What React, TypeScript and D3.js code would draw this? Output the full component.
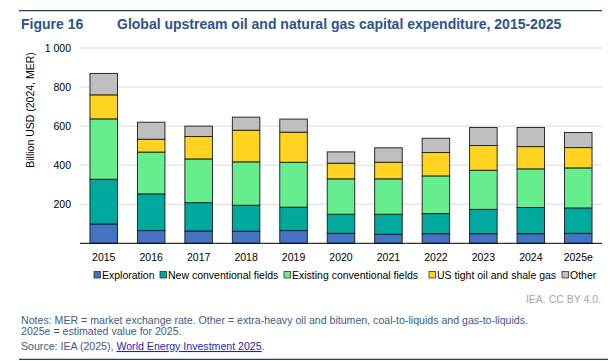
import React from 'react';
import * as d3 from 'd3';

// Chart data (billion USD, 2024 MER)
const years = ['2015', '2016', '2017', '2018', '2019', '2020', '2021', '2022', '2023', '2024', '2025e'];
const exploration = [99, 65, 63, 62, 65, 51, 46, 49, 49, 49, 51];
const newConventional = [229, 188, 145, 133, 120, 98, 103, 103, 125, 134, 130];
const existingConventional = [309, 214, 224, 222, 230, 181, 181, 193, 200, 198, 205];
const usTight = [123, 66, 115, 162, 154, 80, 85, 120, 127, 114, 104];
const other = [110, 87, 53, 67, 67, 58, 74, 73, 92, 98, 77];
const seriesNames = ['Exploration', 'New conventional fields', 'Existing conventional fields', 'US tight oil and shale gas', 'Other'];
const seriesColors = ['#4472C4', '#00A99D', '#66EE8E', '#FFD320', '#BFBFBF'];
const yTicks = [200, 400, 600, 800, 1000];

const W = 612;
const H = 361;
const margin = { left: 80, right: 10, top: 48, bottom: 118 };
const FONT = '"Liberation Sans", Arial, sans-serif';

const fmt = (v: number) => (v >= 1000 ? d3.format(',')(v).replace(',', ' ') : String(v));

const App: React.FC = () => {
  const x = d3.scaleBand<string>()
    .domain(years)
    .range([margin.left, W - margin.right])
    .paddingInner(0.42)
    .paddingOuter(0.21);
  const y = d3.scaleLinear().domain([0, 1000]).range([243.3, 48]);

  const table = years.map((yr, i) => ({
    year: yr,
    s0: exploration[i],
    s1: newConventional[i],
    s2: existingConventional[i],
    s3: usTight[i],
    s4: other[i],
  }));
  const stack = d3.stack<any>().keys(['s0', 's1', 's2', 's3', 's4'])(table);

  const legendX = [94, 160, 284, 429, 562];

  return (
    <svg width={W} height={H} style={{ position: 'absolute', left: 0, top: 0, background: '#fff' }} fontFamily={FONT}>
      <rect width={W} height={H} fill="#fff" />
      <line x1={19} x2={602} y1={10.7} y2={10.7} stroke="#1F3F6E" strokeWidth={1.2} />
      <text x={21} y={28.5} fontSize={14} fontWeight="bold" fill="#2B5391">Figure 16</text>
      <text x={117} y={28.5} fontSize={14} fontWeight="bold" fill="#2B5391">
        Global upstream oil and natural gas capital expenditure, 2015-2025
      </text>

      {/* gridlines */}
      {yTicks.map(t => (
        <line key={t} x1={margin.left} x2={W - margin.right} y1={y(t)} y2={y(t)} stroke="#D9D9D9" strokeWidth={1} />
      ))}
      {yTicks.map(t => (
        <text key={'l' + t} x={71} y={y(t) + 4} fontSize={10.5} textAnchor="end" fill="#000">
          {fmt(t)}
        </text>
      ))}
      <text transform={`translate(34, 110) rotate(-90)`} fontSize={10.5} textAnchor="middle" fill="#000">
        Billion USD (2024, MER)
      </text>

      {/* bars */}
      {stack.map((layer, si) => (
        <g key={si}>
          {layer.map((d, i) => (
            <rect
              key={i}
              x={x(years[i])}
              y={y(d[1])}
              width={x.bandwidth()}
              height={y(d[0]) - y(d[1])}
              fill={seriesColors[si]}
              stroke="#1a1a1a"
              strokeWidth={0.9}
            />
          ))}
        </g>
      ))}
      <line x1={margin.left} x2={W - margin.right} y1={y(0)} y2={y(0)} stroke="#000" strokeWidth={1} />

      {years.map(yr => (
        <text key={yr} x={(x(yr) || 0) + x.bandwidth() / 2} y={261} fontSize={10.5} textAnchor="middle" fill="#000">
          {yr}
        </text>
      ))}

      {/* legend */}
      {seriesNames.map((n, i) => (
        <g key={n}>
          <rect x={legendX[i]} y={271.5} width={6.5} height={6.5} fill={seriesColors[i]} stroke="#333" strokeWidth={0.8} />
          <text x={legendX[i] + 8} y={279} fontSize={10.5} fill="#000">{n}</text>
        </g>
      ))}

      <text x={601} y={302.5} fontSize={10.5} textAnchor="end" fill="#A6A6A6">IEA. CC BY 4.0.</text>

      <text x={21} y={323.5} fontSize={10.6} fill="#3C5A8F">
        Notes: MER = market exchange rate. Other = extra-heavy oil and bitumen, coal-to-liquids and gas-to-liquids.
      </text>
      <text x={21} y={334.5} fontSize={10.6} fill="#3C5A8F">2025e = estimated value for 2025.</text>
      <text x={21} y={350} fontSize={10.6} fill="#3C5A8F">
        Source: IEA (2025), <tspan fill="#1F1FC8" textDecoration="underline">World Energy Investment 2025</tspan>.
      </text>
      <line x1={19} x2={608} y1={359.3} y2={359.3} stroke="#1F3F6E" strokeWidth={1.2} />
    </svg>
  );
};

export default App;
